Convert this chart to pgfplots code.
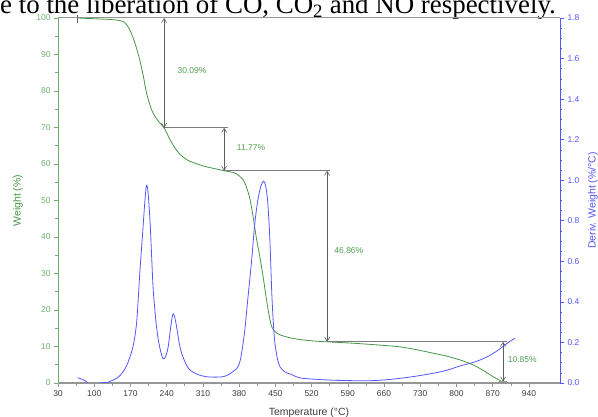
\documentclass[border=0pt]{standalone}
\usepackage{fontspec}
\setmainfont{Liberation Sans}
\newfontfamily\capfont{Liberation Serif}
\usepackage{pgfplots}
\pgfplotsset{compat=1.18}
\usetikzlibrary{arrows.meta}
\definecolor{wgreen}{RGB}{70,148,70}
\definecolor{lgreen}{RGB}{110,175,110}
\definecolor{tgreen}{RGB}{80,160,80}
\definecolor{dblue}{RGB}{85,85,255}
\definecolor{agray}{RGB}{150,150,150}
\definecolor{hgray}{RGB}{125,125,125}
\definecolor{vgray}{RGB}{95,95,95}
\definecolor{dgray}{RGB}{60,60,60}

\pgfplotstableread{
T W
68 100
100 99.8
130 99.6
150 99.3
160 98.6
169 96.7
179 93
188 88.5
195 84
201 79.5
211 74.8
220 72.5
227 71.2
235 69.9
246 66.8
256 64.4
266 62.6
280 61.1
291 60.4
310 59.5
324 59
340 58.5
351 58.14
365 57.8
375 57.3
385 56.1
391 54.8
400 51
407 45.6
413 40
420 34.6
427 28.5
433 22.7
438 18.5
443 15.4
450 14
459 13.2
475 12.5
498 11.9
525 11.5
550 11.28
600 10.9
650 10.4
691 9.9
720 9.2
754 8.2
780 7.4
807 6.3
830 5.1
845 4.0
860 2.7
871 1.7
880 1.0
887 0.43
890 0.3
}\weighttab

\pgfplotstableread{
T D
68 0.026
75 0.02
82 0.012
88 0.0
95 -0.01
105 -0.01
111 0.0
125 0.003
137 0.015
147 0.03
156 0.056
165 0.1
175 0.18
182 0.3
188 0.54
193 0.72
198 0.9
201 0.975
204 0.94
208 0.79
211 0.62
214 0.46
219 0.31
224 0.21
229 0.15
233 0.12
238 0.13
243 0.18
248 0.28
252 0.34
255 0.33
259 0.28
264 0.2
269 0.146
277 0.095
285 0.064
300 0.042
317 0.031
335 0.029
349 0.031
360 0.042
369 0.058
375 0.07
382 0.11
390 0.24
397 0.42
404 0.6
410 0.78
416 0.9
422 0.97
427 0.995
431 0.975
435 0.9
439 0.73
443 0.45
446 0.3
449 0.2
454 0.12
459 0.08
468 0.055
478 0.045
498 0.025
530 0.018
570 0.013
626 0.011
660 0.015
691 0.023
720 0.033
755 0.048
780 0.062
807 0.084
830 0.1
845 0.113
860 0.13
871 0.146
882 0.165
890 0.18
900 0.2
913 0.22
}\derivtab

\begin{document}
\begin{tikzpicture}
\useasboundingbox (0bp,0bp) rectangle (598bp,417bp);
\node[anchor=base west, inner sep=0pt, font=\capfont\fontsize{27}{30}\selectfont] at (0bp,403bp) {e to the liberation of CO, CO\textsubscript{2} and NO respectively.};

\begin{axis}[
  at={(58bp,34bp)}, anchor=south west,
  width=502bp, height=365bp, scale only axis,
  xmin=30, xmax=1000, ymin=0, ymax=100,
  axis x line*=bottom, axis y line*=left,
  x axis line style={agray, line width=1.2pt, -},
  y axis line style={lgreen, line width=0.8pt, -},
  xtick={30,100,...,940}, minor x tick num=1,
  ytick={0,10,...,100}, minor y tick num=1,
  tick align=outside,
  major tick length=4bp, minor tick length=2.5bp,
  x tick style={agray, line width=0.6pt},
  y tick style={lgreen, line width=0.6pt},
  /pgf/number format/assume math mode=true,
  tick label style={font=\fontsize{8.5}{10}\selectfont},
  xticklabel style={text=dgray},
  yticklabel style={text=lgreen},
  xlabel={Temperature (°C)},
  xlabel style={font=\fontsize{10.5}{12}\selectfont, text=dgray, at={(axis description cs:0.5,0)}, anchor=base, yshift=-32bp},
  ylabel={Weight (\%)},
  ylabel style={font=\fontsize{10.5}{12}\selectfont, text=wgreen, at={(axis description cs:-0.0797,0.5)}, anchor=center},
  clip mode=individual,
]
\draw[agray, line width=1pt] (axis cs:30,100) -- (axis cs:1000,100);
\draw[vgray, line width=0.6pt] (axis cs:68,98.6) -- (axis cs:68,100.8);
\addplot[wgreen, line width=0.8pt, smooth, tension=0.5] table[x=T,y=W] {\weighttab};
% annotations
\draw[hgray, line width=0.8pt] (axis cs:235,69.91) -- (axis cs:358,69.91);
\draw[hgray, line width=0.8pt] (axis cs:351,58.14) -- (axis cs:555,58.14);
\draw[hgray, line width=0.8pt] (axis cs:550,11.28) -- (axis cs:897,11.28);
\draw[agray, line width=1.2pt] (axis cs:882,0.43) -- (axis cs:897,0.43);
\tikzset{ann/.style={vgray, line width=0.6pt, {Straight Barb[length=4bp,width=5bp]}-{Straight Barb[length=4bp,width=5bp]}}}
\draw[ann] (axis cs:235,100) -- (axis cs:235,69.91);
\draw[ann] (axis cs:351,69.91) -- (axis cs:351,58.14);
\draw[ann] (axis cs:550,58.14) -- (axis cs:550,11.28);
\draw[ann] (axis cs:890,11.28) -- (axis cs:890,0.43);
\tikzset{pl/.style={font=\fontsize{8.5}{10}\selectfont, text=tgreen, inner sep=0pt}}
\node[pl] at (axis cs:289,85.5) {30.09\%};
\node[pl] at (axis cs:403,64.4) {11.77\%};
\node[pl] at (axis cs:592,36.2) {46.86\%};
\node[pl] at (axis cs:927,6.3) {10.85\%};
\end{axis}

\begin{axis}[
  at={(58bp,34bp)}, anchor=south west,
  width=502bp, height=365bp, scale only axis,
  xmin=30, xmax=1000, ymin=0, ymax=1.8,
  axis y line*=right, axis x line=none,
  y axis line style={dblue, line width=0.8pt, -},
  ytick={0,0.2,0.4,0.6,0.8,1.0,1.2,1.4,1.6,1.8}, minor y tick num=3,
  tick align=outside,
  major tick length=4bp, minor tick length=2.5bp,
  y tick style={dblue, line width=0.6pt},
  /pgf/number format/assume math mode=true,
  yticklabel style={font=\fontsize{8.5}{10}\selectfont, text=dblue, /pgf/number format/.cd, fixed, fixed zerofill, precision=1},
  ylabel={Deriv. Weight (\%/°C)},
  ylabel style={font=\fontsize{10.5}{12}\selectfont, text=dblue, at={(axis description cs:1.0657,0.5)}, anchor=center, rotate=0},
]
\addplot[dblue, line width=0.8pt, smooth, tension=0.5] table[x=T,y=D] {\derivtab};
\end{axis}
\end{tikzpicture}
\end{document}
